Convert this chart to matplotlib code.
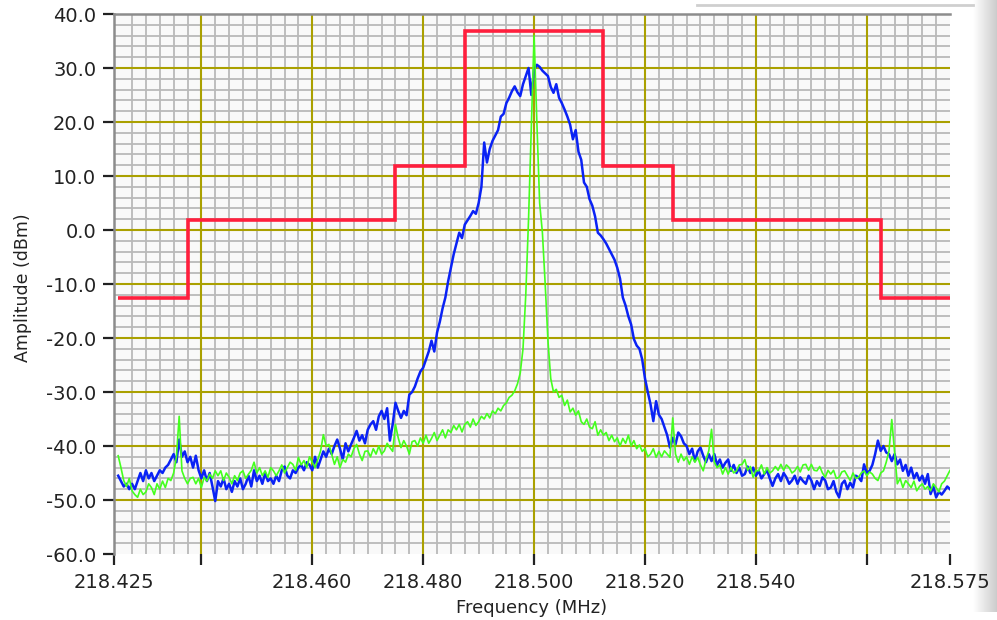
import numpy as np
import matplotlib
matplotlib.use("Agg")
import matplotlib.pyplot as plt
from matplotlib.ticker import FixedLocator
from matplotlib.lines import Line2D

plt.rcParams['font.family'] = ['DejaVu Sans']
plt.rcParams['axes.unicode_minus'] = False

# ---------------- data ----------------
freq_min = 218.425
freq_max = 218.575

# blue trace, sampled every 0.5 kHz from 218.425 to 218.575 MHz (dBm)
blue_amp = [
    -45.5, -46.5, -47.5, -47.0, -48.0, -47.0, -48.0, -46.5, -45.0, -46.5,
    -44.5, -46.0, -45.0, -46.5, -45.5, -44.5, -45.0, -44.0, -43.5, -42.5,
    -41.5, -43.0, -38.8, -42.0, -41.0, -43.0, -42.0, -44.0, -41.8, -44.5,
    -46.0, -44.5, -46.5, -45.0, -47.5, -50.2, -46.5, -47.5, -46.0, -48.0,
    -47.0, -48.5, -46.5, -47.5, -46.0, -48.0, -47.0, -45.5, -47.5, -44.5,
    -46.5, -45.5, -47.0, -45.0, -46.5, -46.0, -47.0, -45.5, -46.5, -44.5,
    -43.8, -45.5, -46.0, -44.5, -45.0, -44.0, -43.5, -44.5, -43.0, -43.5,
    -44.5, -42.0, -44.0, -42.5, -41.0, -42.0, -40.5, -41.5, -40.0, -38.8,
    -40.5, -42.5, -39.5, -41.0, -39.7, -38.5, -37.2, -39.0, -38.0, -39.5,
    -37.0, -36.0, -35.4, -37.0, -34.5, -33.5, -35.0, -33.0, -39.0, -36.0,
    -32.0, -33.5, -34.8, -33.5, -34.3, -30.5, -30.0, -29.0, -27.5, -26.2,
    -25.5, -24.0, -22.5, -20.5, -22.5, -19.0, -17.0, -14.5, -12.5, -9.5,
    -7.0, -4.5, -2.5, -0.5, -1.5, 1.0, 1.8, 2.6, 3.5, 3.0,
    5.0, 8.0, 16.2, 12.5, 15.0, 16.5, 17.5, 18.5, 21.0, 21.5,
    23.5, 24.5, 25.7, 26.6, 25.5, 24.8, 27.0, 28.5, 30.0, 25.0,
    29.7, 30.6, 30.2, 29.5, 29.0, 28.5, 26.5, 25.4, 27.0, 24.5,
    23.5, 22.3, 21.0, 19.5, 16.8, 18.5, 14.5, 13.0, 8.8, 8.0,
    5.7, 4.5, 2.5, -0.5, -1.0, -1.7, -2.5, -3.5, -4.5, -5.5,
    -7.0, -9.0, -12.5, -14.0, -16.0, -17.5, -20.2, -21.4, -22.0, -24.0,
    -27.5, -30.0, -32.3, -35.4, -31.7, -34.2, -35.0, -36.5, -38.0, -40.3,
    -38.5, -39.7, -37.5, -38.2, -39.5, -40.0, -41.5, -40.5, -42.8, -41.0,
    -40.3, -41.8, -43.0, -41.5, -42.8, -41.5, -43.5, -42.5, -44.0, -43.1,
    -42.5, -44.6, -43.5, -45.0, -44.0, -45.5, -45.2, -43.8, -45.0, -44.0,
    -45.5, -44.6, -46.0, -45.2, -44.5, -46.0, -47.4, -46.0, -45.2, -46.5,
    -45.0, -45.8, -47.0, -46.4, -45.5, -47.0, -45.8, -46.5, -47.0, -45.5,
    -46.4, -48.0, -46.5, -47.4, -45.8, -46.4, -48.0, -47.7, -46.5, -48.5,
    -49.5, -47.0, -46.4, -48.0, -46.8, -47.7, -45.5, -45.8, -46.5, -43.4,
    -45.0, -44.6, -43.5, -41.5, -39.0, -40.9, -40.0, -41.2, -41.5, -42.8,
    -41.5, -43.4, -42.5, -44.6, -43.5, -45.5, -44.0, -46.0, -45.0, -46.4,
    -45.5, -47.0, -45.2, -48.9, -47.5, -49.5, -48.5, -49.0, -48.3, -47.5,
    -48.0,
]

# green trace, same sampling (dBm)
green_amp = [
    -41.8, -44.0, -46.4, -47.5, -46.0, -48.3, -49.0, -49.5, -48.0, -49.0,
    -48.5, -47.0, -47.7, -49.0, -47.0, -48.0, -46.5, -47.7, -46.0, -46.4,
    -45.0, -42.0, -34.5, -44.6, -46.0, -47.0, -46.0, -45.8, -47.0, -46.0,
    -47.7, -45.8, -46.5, -45.2, -46.0, -44.6, -45.5, -44.6, -46.4, -45.0,
    -45.8, -47.0, -45.5, -46.4, -45.0, -44.6, -46.0, -45.2, -44.5, -43.0,
    -45.0, -44.0, -45.5, -44.6, -45.8, -44.0, -44.6, -45.5, -44.6, -43.5,
    -45.0, -44.0, -43.0, -43.4, -44.5, -42.1, -43.5, -42.7, -44.0, -42.0,
    -43.0, -44.0, -42.5, -40.9, -37.9, -40.0, -39.7, -41.5, -43.4, -42.0,
    -44.0, -42.5, -43.0, -41.5, -42.0, -40.5, -39.7, -41.5, -42.7, -41.0,
    -40.9, -42.0, -40.5, -41.5, -40.0, -41.5, -40.9, -39.5, -40.3, -41.0,
    -36.0, -38.5, -40.3, -39.0, -40.0, -41.5, -39.2, -39.0, -40.0, -38.5,
    -39.5, -38.0, -39.5, -38.6, -37.5, -39.0, -38.0, -37.0, -38.5, -37.0,
    -37.5, -36.2, -37.0, -36.0, -37.4, -36.0, -35.5, -36.5, -35.0, -36.2,
    -35.5, -34.5, -35.0, -34.0, -34.8, -33.5, -34.0, -33.0, -33.5, -32.5,
    -32.0, -31.0, -30.6, -29.8, -28.5, -26.5, -22.0, -12.0, 2.0, 19.0,
    36.0, 20.0, 5.0, -0.5, -10.0, -20.5, -27.5, -30.0, -29.5, -31.0,
    -30.6, -32.5, -31.5, -33.7, -33.0, -34.3, -33.5, -35.5, -36.0, -35.0,
    -36.5, -36.8, -35.5, -38.0, -37.0, -38.0, -37.5, -39.0, -38.0, -39.2,
    -38.5, -40.0, -38.6, -39.5, -38.0, -40.0, -39.0, -40.5, -39.8, -41.0,
    -40.5, -42.0, -41.5, -40.5, -42.1, -41.0, -42.0, -40.9, -41.5, -42.1,
    -34.8, -41.5, -43.0, -41.5, -42.7, -42.0, -43.4, -42.0, -43.0, -42.1,
    -43.5, -44.6, -42.5, -40.9, -36.9, -43.0, -44.0, -43.5, -45.2, -44.0,
    -45.2, -44.0, -45.0, -44.6, -43.5, -43.4, -42.5, -44.5, -43.8, -45.8,
    -44.5, -44.6, -43.5, -45.2, -44.0, -45.0, -44.6, -43.8, -44.5, -43.4,
    -44.5, -43.5, -44.0, -45.0, -44.6, -43.8, -44.8, -43.5, -43.4, -44.5,
    -43.4, -44.5, -44.6, -43.8, -45.0, -45.8, -44.5, -45.2, -44.5, -46.0,
    -45.8, -44.8, -44.6, -45.5, -46.4, -45.0, -46.0, -45.8, -45.0, -44.6,
    -45.5, -44.8, -45.2, -46.0, -46.4, -45.0, -44.6, -43.0, -40.9, -35.1,
    -41.0, -47.0, -46.0, -47.7, -46.4, -47.0, -47.7, -46.5, -48.3, -47.5,
    -47.0, -48.0, -47.5, -48.3, -47.0, -47.7, -48.5, -47.0, -46.5, -45.5,
    -44.5,
]

# red spectral mask (stair edges in MHz, levels in dBm)
mask_edges = [218.425, 218.4375, 218.475, 218.4875, 218.5125, 218.525, 218.5625, 218.575]
mask_levels = [-12.6, 1.9, 11.9, 36.9, 11.9, 1.9, -12.6]

y_ticks = [-60, -50, -40, -30, -20, -10, 0, 10, 20, 30, 40]
x_major = [218.440, 218.460, 218.480, 218.500, 218.520, 218.540, 218.560]
x_tick_labels = ['218.425', '', '218.460', '218.480', '218.500', '218.520', '218.540', '', '218.575']

# ---------------- figure ----------------
W, H = 997, 620
fig = plt.figure(figsize=(W / 100, H / 100), dpi=100)
fig.patch.set_facecolor('white')

# window shadow strip at right edge (behind everything)
sax = fig.add_axes([973 / W, 1 - 612 / H, 24 / W, 612 / H], zorder=0)
grad = np.linspace(1.0, 0.80, 64).reshape(1, -1)
sax.imshow(grad, aspect='auto', cmap='gray', vmin=0, vmax=1, extent=[0, 1, 0, 1])
sax.set_axis_off()

x_left = 218.4243
ax = fig.add_axes([114.3 / W, 1 - 554 / H, (950 - 114.3) / W, (554 - 14) / H], zorder=2)
ax.set_facecolor('#f9f9f9')
ax.set_xlim(x_left, freq_max)
ax.set_ylim(-60, 40)

freq = np.linspace(freq_min, freq_max, len(blue_amp))

# grid
minor_x = [218.4275 + 0.0025 * i for i in range(59)]
minor_y = [v for v in range(-58, 40, 2)]
for xv in minor_x:
    ax.axvline(xv, color='#b9b9b9', lw=1.3, zorder=1)
for yv in minor_y:
    ax.axhline(yv, color='#b9b9b9', lw=1.3, zorder=1)
for xv in x_major:
    ax.axvline(xv, color='#aaa000', lw=1.5, zorder=2)
for yv in y_ticks[1:-1]:
    ax.axhline(yv, color='#aaa000', lw=1.5, zorder=2)

ax.plot(freq, blue_amp, color='#0a22f5', lw=1.8, zorder=4)
ax.plot(freq, green_amp, color='#44ff1e', lw=1.2, zorder=5)
ax.stairs(mask_levels, mask_edges, color='#ff1f3d', lw=2.6, zorder=6, baseline=None)

# axes styling
for s in ['right', 'bottom']:
    ax.spines[s].set_visible(False)
for s in ['left', 'top']:
    ax.spines[s].set_color('#8c8c8c')
    ax.spines[s].set_linewidth(1.8)

ax.xaxis.set_major_locator(FixedLocator([x_left] + x_major + [freq_max]))
ax.set_xticklabels(x_tick_labels)
ax.set_yticks(y_ticks)
ax.set_yticklabels([f"{v:.1f}" for v in y_ticks])
ax.tick_params(axis='both', direction='out', length=8, width=1.6, color='#222222',
               labelsize=14, labelcolor='#222222')
ax.tick_params(axis='x', pad=6)
ax.tick_params(axis='y', pad=5)

fig.text(23 / W, 1 - 287.5 / H, 'Amplitude (dBm)', rotation=90, ha='center', va='center',
         fontsize=12.5, color='#222222')
fig.text(532 / W, 3 / H, 'Frequency (MHz)', ha='center', va='bottom',
         fontsize=13, color='#222222')

# faint window edge line at the top right
fig.add_artist(Line2D([697 / W, 973 / W], [1 - 4.5 / H, 1 - 4.5 / H],
                      transform=fig.transFigure, color='#cfcfcf', lw=2))

fig.savefig('out.png', dpi=100, facecolor='white')
